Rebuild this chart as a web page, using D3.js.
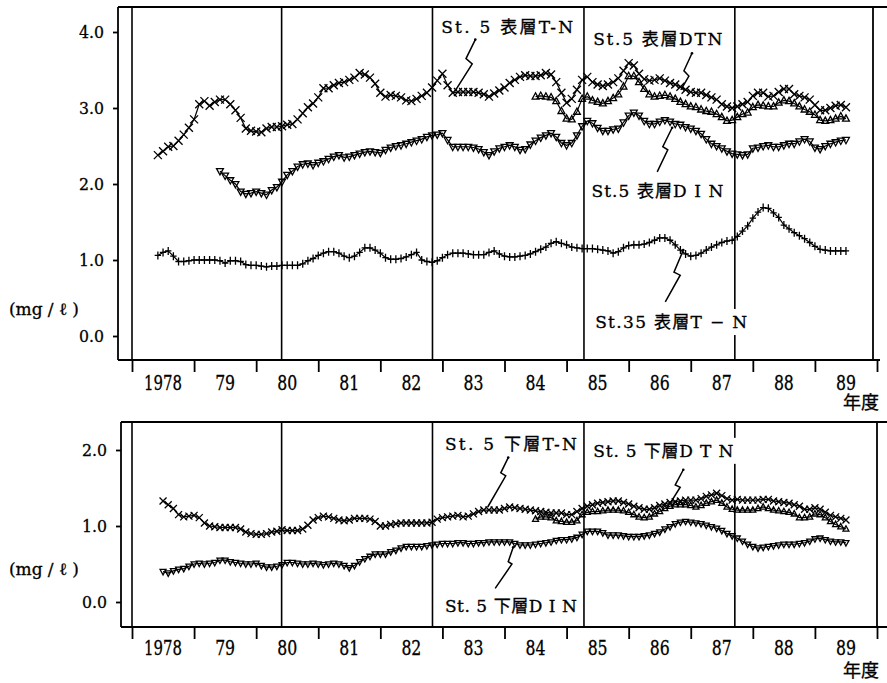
<!DOCTYPE html>
<html>
<head>
<meta charset="utf-8">
<script src="https://cdn.jsdelivr.net/npm/d3@7"></script>
<style>
  body { margin: 0; background: #fff; }
  svg { display: block; }
  svg text { font-family: "DejaVu Serif", "Liberation Serif", "Noto Sans CJK JP", serif; fill: #000; stroke: #000; stroke-width: 0.3px; }
</style>
</head>
<body>
<svg id="chart" width="887" height="683"></svg>
<script>
// Fiscal-year axis (年度): one tick per year boundary, label centred in the year
const yearLabels = ["1978", "79", "80", "81", "82", "83", "84", "85", "86", "87", "88", "89"];
const firstYear = 1978;
const lastYear = 1990;
// Vertical division lines drawn across both panels
const divisionYears = [1980.41, 1982.84, 1985.28, 1987.71];

const upperTicks = [0, 1, 2, 3, 4];
const lowerTicks = [0, 1, 2];

// Monthly values (mg/ℓ); each series starts a given number of months after 1978.0
const upperTNStart = 5;   // St.5 表層 T-N
const upperTN = [
  2.38,2.43,2.49,2.50,2.57,2.65,2.74,2.85,3.05,3.09,
  3.03,3.08,3.11,3.11,3.05,2.97,2.87,2.73,2.70,2.69,
  2.68,2.73,2.75,2.75,2.76,2.78,2.79,2.85,2.93,3.01,
  3.06,3.14,3.26,3.26,3.30,3.33,3.34,3.37,3.40,3.46,
  3.44,3.40,3.32,3.20,3.15,3.17,3.16,3.14,3.10,3.09,
  3.12,3.16,3.20,3.27,3.36,3.45,3.30,3.20,3.21,3.21,
  3.21,3.21,3.20,3.18,3.15,3.19,3.23,3.27,3.33,3.37,
  3.41,3.43,3.42,3.42,3.43,3.46,3.44,3.34,3.20,3.07,
  3.12,3.24,3.37,3.41,3.34,3.31,3.29,3.31,3.34,3.39,
  3.49,3.59,3.56,3.45,3.38,3.36,3.37,3.39,3.36,3.33,
  3.31,3.28,3.24,3.21,3.20,3.20,3.17,3.14,3.11,3.05,
  3.02,3.00,3.02,3.05,3.08,3.16,3.20,3.20,3.15,3.16,
  3.21,3.25,3.25,3.18,3.16,3.14,3.11,3.04,2.97,2.97,
  3.00,3.03,3.04,3.01
];

const upperDTNStart = 78; // St.5 表層 DTN
const upperDTN = [
  3.15,3.16,3.15,3.14,3.09,2.96,2.86,2.85,2.95,3.12,
  3.15,3.10,3.08,3.06,3.09,3.13,3.18,3.28,3.42,3.42,
  3.34,3.25,3.18,3.15,3.16,3.17,3.15,3.12,3.08,3.05,
  3.02,3.01,2.98,2.96,2.95,2.92,2.88,2.83,2.84,2.88,
  2.92,2.94,3.01,3.04,3.03,3.02,3.02,3.07,3.10,3.09,
  3.06,3.02,2.98,2.95,2.91,2.84,2.83,2.84,2.86,2.89,2.86
];

const upperDINStart = 17; // St.5 表層 DIN
const upperDIN = [
  2.17,2.11,2.05,2.00,1.90,1.87,1.88,1.90,1.88,1.86,
  1.92,1.96,2.03,2.12,2.17,2.23,2.26,2.27,2.25,2.28,
  2.30,2.33,2.36,2.38,2.35,2.36,2.38,2.40,2.42,2.43,
  2.42,2.41,2.45,2.48,2.50,2.51,2.53,2.55,2.57,2.59,
  2.62,2.64,2.65,2.67,2.58,2.49,2.49,2.49,2.49,2.48,
  2.46,2.42,2.38,2.43,2.47,2.49,2.51,2.49,2.45,2.46,
  2.52,2.57,2.61,2.64,2.67,2.62,2.54,2.51,2.54,2.64,
  2.76,2.83,2.80,2.74,2.70,2.70,2.72,2.73,2.81,2.90,
  2.94,2.90,2.83,2.79,2.79,2.82,2.84,2.82,2.79,2.78,
  2.75,2.73,2.70,2.66,2.59,2.53,2.50,2.47,2.43,2.40,
  2.39,2.38,2.39,2.47,2.48,2.50,2.51,2.49,2.49,2.51,
  2.53,2.53,2.56,2.59,2.56,2.48,2.46,2.50,2.53,2.55,2.57,2.58
];

const st35TNStart = 5;    // St.35 表層 T-N
const st35TN = [
  1.06,1.10,1.12,1.05,0.98,0.98,0.99,1.00,1.00,1.00,
  1.00,1.00,0.99,0.96,0.99,0.99,0.98,0.94,0.93,0.93,
  0.92,0.91,0.92,0.92,0.93,0.93,0.93,0.93,0.95,0.99,
  1.02,1.06,1.09,1.11,1.11,1.09,1.05,1.03,1.05,1.10,
  1.16,1.16,1.13,1.09,1.03,1.01,1.01,1.02,1.04,1.07,
  1.10,1.00,0.98,0.97,0.99,1.03,1.07,1.09,1.09,1.09,
  1.08,1.07,1.07,1.07,1.10,1.12,1.08,1.05,1.04,1.04,
  1.05,1.06,1.08,1.11,1.14,1.17,1.22,1.24,1.22,1.20,
  1.17,1.16,1.15,1.15,1.15,1.14,1.13,1.12,1.09,1.11,
  1.16,1.19,1.20,1.20,1.21,1.23,1.26,1.29,1.29,1.26,
  1.20,1.13,1.08,1.05,1.06,1.09,1.13,1.17,1.20,1.23,
  1.25,1.26,1.31,1.38,1.45,1.55,1.63,1.69,1.68,1.62,
  1.56,1.46,1.41,1.36,1.32,1.28,1.23,1.18,1.14,1.13,
  1.12,1.12,1.12,1.12
];

const lowerTNStart = 6;   // St.5 下層 T-N
const lowerTN = [
  1.33,1.28,1.23,1.15,1.12,1.13,1.14,1.11,1.04,1.00,
  0.99,0.98,0.98,0.98,0.98,0.96,0.92,0.90,0.89,0.89,
  0.90,0.92,0.93,0.95,0.94,0.94,0.94,0.96,1.01,1.08,
  1.11,1.13,1.12,1.10,1.08,1.07,1.08,1.10,1.10,1.10,
  1.09,1.06,1.00,1.00,1.02,1.03,1.04,1.04,1.04,1.04,
  1.04,1.04,1.05,1.09,1.11,1.12,1.13,1.14,1.12,1.13,
  1.16,1.19,1.21,1.21,1.21,1.21,1.23,1.25,1.24,1.23,
  1.22,1.21,1.20,1.19,1.18,1.17,1.17,1.17,1.15,1.15,
  1.19,1.23,1.26,1.28,1.30,1.31,1.32,1.33,1.33,1.31,
  1.29,1.26,1.24,1.22,1.22,1.24,1.27,1.29,1.31,1.32,
  1.33,1.34,1.34,1.34,1.36,1.39,1.41,1.43,1.40,1.36,
  1.34,1.35,1.34,1.34,1.34,1.34,1.35,1.35,1.33,1.32,
  1.31,1.30,1.28,1.26,1.22,1.22,1.24,1.22,1.18,1.14,1.12,1.10,1.08
];

const lowerDTNStart = 78; // St.5 下層 DTN
const lowerDTN = [
  1.09,1.12,1.12,1.11,1.07,1.06,1.05,1.05,1.07,1.15,
  1.18,1.19,1.19,1.20,1.21,1.21,1.21,1.20,1.18,1.15,
  1.12,1.11,1.12,1.16,1.19,1.23,1.26,1.28,1.28,1.28,
  1.27,1.25,1.27,1.30,1.32,1.34,1.30,1.25,1.22,1.21,
  1.21,1.21,1.21,1.23,1.25,1.23,1.21,1.20,1.19,1.18,
  1.16,1.11,1.11,1.12,1.16,1.15,1.11,1.06,1.02,0.99,0.96
];

const lowerDINStart = 6;  // St.5 下層 DIN
const lowerDIN = [
  0.40,0.38,0.41,0.43,0.44,0.47,0.50,0.51,0.50,0.51,
  0.52,0.55,0.55,0.53,0.52,0.51,0.50,0.50,0.51,0.48,
  0.46,0.46,0.47,0.49,0.52,0.52,0.51,0.50,0.50,0.51,
  0.50,0.49,0.50,0.51,0.50,0.48,0.45,0.48,0.53,0.57,
  0.60,0.63,0.63,0.63,0.66,0.68,0.71,0.73,0.73,0.73,
  0.73,0.74,0.75,0.76,0.77,0.77,0.77,0.78,0.78,0.77,
  0.77,0.78,0.78,0.79,0.79,0.79,0.79,0.79,0.77,0.75,
  0.75,0.75,0.76,0.77,0.78,0.79,0.81,0.82,0.82,0.83,
  0.85,0.89,0.93,0.93,0.93,0.91,0.88,0.88,0.88,0.87,
  0.86,0.86,0.86,0.87,0.88,0.90,0.92,0.96,0.99,1.03,
  1.05,1.06,1.05,1.04,1.03,1.01,0.99,0.97,0.94,0.90,
  0.87,0.84,0.80,0.76,0.73,0.71,0.72,0.73,0.74,0.75,
  0.76,0.76,0.76,0.77,0.78,0.80,0.83,0.84,0.82,0.80,0.79,0.79,0.78
];

// Series labels with leader lines, positioned in data units [year, value]
const upperLabels = [
  { text: "St. 5 表層T-N",   at: [1982.98, 3.99], width: 132,
    leader: [[1983.53, 3.90], [1983.38, 3.65], [1983.48, 3.58], [1983.20, 3.22]] },
  { text: "St.5 表層DTN",    at: [1985.43, 3.83], width: 129,
    leader: [[1987.02, 3.72], [1986.89, 3.49], [1986.97, 3.42], [1986.84, 3.24]] },
  { text: "St.5 表層D I N",  at: [1985.40, 1.83], width: 132,
    leader: [[1986.70, 2.74], [1986.55, 2.49], [1986.63, 2.45], [1986.46, 2.16]] },
  { text: "St.35 表層T − N", at: [1985.46, 0.105], width: 152,
    leader: [[1986.88, 1.13], [1986.73, 0.84], [1986.83, 0.80], [1986.59, 0.45]] }
];
const lowerLabels = [
  { text: "St. 5 下層T-N",    at: [1983.04, 2.00], width: 132,
    leader: [[1984.06, 1.90], [1983.94, 1.70], [1984.02, 1.66], [1983.73, 1.25]] },
  { text: "St. 5 下層D T N",  at: [1985.43, 1.91], width: 140,
    leader: [[1986.88, 1.74], [1986.75, 1.54], [1986.83, 1.51], [1986.67, 1.30]] },
  { text: "St. 5 下層D I N",  at: [1983.04, -0.13], width: 132,
    leader: [[1984.14, 0.72], [1984.06, 0.53], [1984.12, 0.50], [1983.85, 0.18]] }
];

const svg = d3.select("#chart");
const x = d3.scaleLinear().domain([firstYear, lastYear]).range([132, 877]);

// Marker shapes (stroked, unfilled)
const markerPaths = {
  cross: r => `M${-r},${-r}L${r},${r}M${-r},${r}L${r},${-r}`,
  plus: r => `M0,${-r}V${r}M${-r * 0.8},0H${r * 0.8}`,
  triUp: r => `M0,${-r}L${r * 0.9},${r * 0.65}L${-r * 0.9},${r * 0.65}Z`,
  triDown: r => `M0,${r}L${r * 0.9},${-r * 0.65}L${-r * 0.9},${-r * 0.65}Z`
};

function toPoints(values, start) {
  return values.map((v, i) => ({ t: firstYear + (start + i) / 12, v }));
}

const panels = [
  {
    yDomain: [0, 4], yRange: [336, 32], ticks: upperTicks,
    frame: { l: 118, r: 873, t: 7, b: 360, topEnd: 887, bottomEnd: 880 },
    tickLabelY: 390, unitY: 315, nendoY: 409,
    series: [
      { pts: toPoints(upperTN, upperTNStart), marker: "cross", r: 4 },
      { pts: toPoints(upperDTN, upperDTNStart), marker: "triUp", r: 3.8 },
      { pts: toPoints(upperDIN, upperDINStart), marker: "triDown", r: 3.8 },
      { pts: toPoints(st35TN, st35TNStart), marker: "plus", r: 4 }
    ],
    labels: upperLabels
  },
  {
    yDomain: [0, 2], yRange: [602, 450], ticks: lowerTicks,
    frame: { l: 121, r: 877, t: 422, b: 627, topEnd: 887, bottomEnd: 887 },
    tickLabelY: 655, unitY: 575, nendoY: 677,
    series: [
      { pts: toPoints(lowerTN, lowerTNStart), marker: "cross", r: 3.5 },
      { pts: toPoints(lowerDTN, lowerDTNStart), marker: "triUp", r: 3.3 },
      { pts: toPoints(lowerDIN, lowerDINStart), marker: "triDown", r: 3.3 }
    ],
    labels: lowerLabels
  }
];

panels.forEach(p => {
  const y = d3.scaleLinear().domain(p.yDomain).range(p.yRange);
  const f = p.frame;
  const g = svg.append("g");

  // Frame
  const frameLines = [
    [f.l, f.t, f.topEnd, f.t, 2],
    [f.l, f.b, f.bottomEnd, f.b, 1.8],
    [f.l, f.t, f.l, f.b, 1.8],
    [f.r, f.t, f.r, f.b, 1.8],
    [x(firstYear), f.t, x(firstYear), f.b, 1.6]
  ];
  g.selectAll("line.frame").data(frameLines).join("line")
    .attr("class", "frame")
    .attr("x1", d => d[0]).attr("y1", d => d[1])
    .attr("x2", d => d[2]).attr("y2", d => d[3])
    .attr("stroke", "#000").attr("stroke-width", d => d[4]);

  // Division lines
  g.selectAll("line.div").data(divisionYears).join("line")
    .attr("class", "div")
    .attr("x1", d => x(d)).attr("x2", d => x(d))
    .attr("y1", f.t).attr("y2", f.b)
    .attr("stroke", "#000").attr("stroke-width", 1.6);

  // Y axis (ticks outside the frame)
  const yAxis = g.append("g")
    .attr("transform", `translate(${f.l},0)`)
    .call(d3.axisLeft(y).tickValues(p.ticks).tickSize(5).tickPadding(9)
      .tickFormat(d3.format(".1f")));
  yAxis.attr("font-family", null).attr("font-size", null);
  yAxis.select(".domain").remove();
  yAxis.selectAll(".tick line").attr("stroke", "#000").attr("stroke-width", 1.8);
  yAxis.selectAll(".tick text")
    .attr("font-size", 17).attr("fill", "#000")
    .attr("textLength", 25).attr("lengthAdjust", "spacingAndGlyphs");

  // X axis ticks at fiscal-year boundaries
  const xAxis = g.append("g")
    .attr("transform", `translate(0,${f.b})`)
    .call(d3.axisBottom(x).tickValues(d3.range(firstYear, lastYear + 1)).tickSize(12).tickFormat(""));
  xAxis.select(".domain").remove();
  xAxis.selectAll(".tick line").attr("stroke", "#000").attr("stroke-width", 1.8);

  // Year labels centred in each year
  g.selectAll("text.year").data(yearLabels).join("text")
    .attr("class", "year")
    .attr("x", (d, i) => x(firstYear + i + 0.5))
    .attr("y", p.tickLabelY)
    .attr("text-anchor", "middle")
    .attr("font-size", 20)
    .attr("textLength", d => d.length === 4 ? 38 : 20)
    .attr("lengthAdjust", "spacingAndGlyphs")
    .text(d => d);

  g.append("text")
    .attr("x", 861).attr("y", p.nendoY)
    .attr("text-anchor", "middle")
    .attr("font-size", 18)
    .text("年度");

  g.append("text")
    .attr("x", 9).attr("y", p.unitY)
    .attr("font-size", 17)
    .attr("textLength", 70).attr("lengthAdjust", "spacing")
    .text("(mg / ℓ )");

  // Series labels sit on a white box, which breaks any division line they cross
  const leaderLine = d3.line().x(d => x(d[0])).y(d => y(d[1]));
  p.labels.forEach(l => {
    const lg = g.append("g");
    const bg = lg.append("rect").attr("fill", "#fff");
    const t = lg.append("text")
      .attr("x", x(l.at[0])).attr("y", y(l.at[1]))
      .attr("font-size", 17)
      .attr("textLength", l.width).attr("lengthAdjust", "spacing")
      .text(l.text);
    const b = t.node().getBBox();
    bg.attr("x", b.x - 5).attr("y", b.y - 3)
      .attr("width", b.width + 10).attr("height", b.height + 6);
    g.append("path")
      .attr("d", leaderLine(l.leader))
      .attr("fill", "none").attr("stroke", "#000").attr("stroke-width", 1.5);
    g.append("circle")
      .attr("cx", x(l.leader[0][0])).attr("cy", y(l.leader[0][1])).attr("r", 1.3);
  });

  // Series: thin connecting line plus a marker at every monthly value
  const line = d3.line().x(d => x(d.t)).y(d => y(d.v));
  p.series.forEach(s => {
    g.append("path")
      .attr("d", line(s.pts))
      .attr("fill", "none").attr("stroke", "#000").attr("stroke-width", 1.2);
    g.append("g").selectAll("path").data(s.pts).join("path")
      .attr("transform", d => `translate(${x(d.t)},${y(d.v)})`)
      .attr("d", markerPaths[s.marker](s.r))
      .attr("fill", "none").attr("stroke", "#000").attr("stroke-width", 1.3);
  });
});
</script>
</body>
</html>
